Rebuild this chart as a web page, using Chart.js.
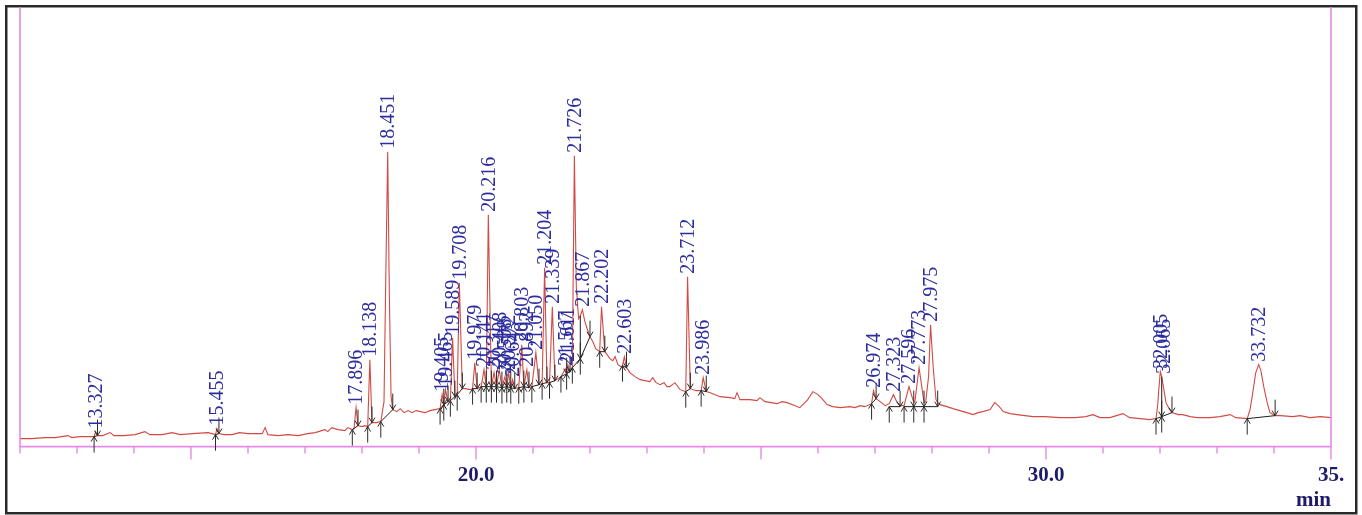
<!DOCTYPE html>
<html>
<head>
<meta charset="utf-8">
<title>Chromatogram</title>
<script src="https://cdn.jsdelivr.net/npm/chart.js@4/dist/chart.umd.min.js"></script>
<style>
  html, body { margin: 0; padding: 0; background: #ffffff; }
  #wrap { width: 1362px; height: 515px; position: relative; }
</style>
</head>
<body>
<div id="wrap"><canvas id="chrom" width="1362" height="515"></canvas></div>
<script>
// Detector trace: [retention time (min), signal]
const trace = [
  [12.00, 8], [12.20, 8], [12.44, 9], [12.62, 9], [12.84, 11], [12.91, 9], [13.05, 10], [13.23, 10],
  [13.30, 10], [13.327, 15], [13.36, 11], [13.45, 11], [13.58, 14], [13.65, 11], [13.82, 11], [14.02, 12],
  [14.19, 15], [14.28, 12], [14.49, 12], [14.67, 14], [14.81, 12], [15.02, 13], [15.30, 14], [15.43, 12],
  [15.455, 18], [15.49, 13], [15.58, 12], [15.72, 12], [15.85, 14], [16.00, 13], [16.25, 13], [16.30, 19],
  [16.35, 12], [16.53, 11], [16.70, 12], [16.88, 11], [17.05, 13], [17.18, 14], [17.35, 17], [17.40, 15],
  [17.47, 19], [17.52, 18], [17.58, 17], [17.70, 16], [17.75, 19], [17.83, 17], [17.86, 18], [17.896, 39],
  [17.93, 21], [18.00, 20], [18.05, 21], [18.10, 20], [18.138, 87], [18.175, 24], [18.25, 24], [18.33, 25],
  [18.386, 45], [18.42, 180], [18.451, 295], [18.48, 150], [18.51, 50], [18.54, 37], [18.61, 35], [18.67, 38],
  [18.74, 34], [18.81, 36], [18.88, 34], [18.95, 36], [19.02, 35], [19.11, 34], [19.19, 36], [19.28, 37],
  [19.37, 38], [19.405, 52], [19.435, 42], [19.465, 57], [19.51, 45], [19.55, 46], [19.589, 109], [19.63, 50],
  [19.67, 52], [19.708, 164], [19.76, 58], [19.81, 58], [19.89, 57], [19.94, 58], [19.979, 84], [20.02, 58],
  [20.09, 60], [20.141, 77], [20.18, 60], [20.216, 232], [20.27, 60], [20.317, 74], [20.36, 60], [20.408, 77],
  [20.455, 59], [20.508, 70], [20.54, 60], [20.572, 74], [20.61, 59], [20.643, 67], [20.68, 58], [20.75, 59],
  [20.803, 102], [20.84, 60], [20.892, 77], [20.93, 59], [20.98, 60], [21.050, 94], [21.105, 62], [21.16, 63],
  [21.204, 179], [21.245, 64], [21.29, 64], [21.339, 140], [21.385, 66], [21.44, 68], [21.49, 70], [21.567, 78],
  [21.59, 73], [21.611, 82], [21.65, 75], [21.69, 79], [21.726, 291], [21.76, 160], [21.80, 128], [21.83, 131],
  [21.867, 137], [21.91, 125], [21.95, 118], [22.00, 110], [22.05, 105], [22.10, 98], [22.17, 95], [22.202, 140],
  [22.26, 95], [22.30, 92], [22.35, 88], [22.40, 86], [22.44, 90], [22.49, 82], [22.54, 80], [22.57, 81],
  [22.603, 90], [22.64, 79], [22.70, 74], [22.79, 70], [22.88, 67], [22.96, 66], [23.05, 65], [23.10, 69],
  [23.16, 64], [23.23, 62], [23.30, 64], [23.35, 60], [23.40, 60], [23.49, 64], [23.58, 57], [23.68, 55],
  [23.712, 170], [23.76, 58], [23.86, 56], [23.95, 56], [23.986, 69], [24.04, 55], [24.11, 54], [24.28, 50],
  [24.46, 49], [24.54, 48], [24.58, 54], [24.63, 47], [24.81, 47], [24.93, 46], [24.98, 49], [25.07, 45],
  [25.28, 43], [25.37, 45], [25.46, 44], [25.60, 41], [25.68, 39], [25.77, 44], [25.82, 47], [25.91, 55],
  [26.00, 52], [26.07, 48], [26.16, 42], [26.26, 40], [26.39, 39], [26.56, 40], [26.65, 39], [26.74, 41],
  [26.82, 40], [26.94, 43], [26.974, 56], [27.02, 48], [27.09, 45], [27.18, 41], [27.25, 43], [27.323, 52],
  [27.39, 44], [27.44, 41], [27.51, 41], [27.596, 60], [27.68, 44], [27.70, 45], [27.773, 79], [27.86, 44],
  [27.89, 45], [27.94, 70], [27.975, 122], [28.02, 80], [28.07, 47], [28.10, 44], [28.14, 42], [28.26, 40],
  [28.37, 38], [28.49, 36], [28.61, 34], [28.72, 32], [28.81, 34], [28.89, 35], [29.02, 37], [29.10, 44],
  [29.18, 40], [29.25, 35], [29.37, 33], [29.49, 32], [29.63, 31], [29.77, 30], [29.98, 30], [30.25, 29],
  [30.51, 29], [30.70, 30], [30.82, 32], [30.95, 29], [31.12, 29], [31.35, 33], [31.47, 29], [31.65, 28],
  [31.82, 27], [31.93, 28], [31.96, 42], [31.98, 58], [32.005, 75], [32.03, 70], [32.065, 58], [32.105, 44],
  [32.16, 38], [32.21, 34], [32.32, 32], [32.40, 32], [32.53, 30], [32.65, 29], [32.88, 29], [33.05, 30],
  [33.23, 32], [33.33, 29], [33.53, 28], [33.58, 37], [33.63, 55], [33.68, 74], [33.732, 82], [33.77, 76],
  [33.82, 60], [33.88, 44], [33.93, 34], [34.02, 31], [34.11, 31], [34.33, 30], [34.46, 31], [34.63, 29],
  [34.81, 30], [35.00, 29]
];

// Integrated peaks: retention times, with integration start and end points [time, signal]
const peakTimes = [13.327, 15.455, 17.896, 18.138, 18.451, 19.405, 19.465, 19.589, 19.708, 19.979,
  20.141, 20.216, 20.317, 20.408, 20.508, 20.572, 20.643, 20.803, 20.892, 21.050,
  21.204, 21.339, 21.567, 21.611, 21.726, 21.867, 22.202, 22.603, 23.712, 23.986,
  26.974, 27.323, 27.596, 27.773, 27.975, 32.005, 32.065, 33.732];

const peakStarts = [[13.30, 10], [15.43, 12], [17.83, 17], [18.10, 20], [18.33, 25], [19.37, 38], [19.435, 42],
  [19.55, 46], [19.67, 52], [19.94, 58], [20.09, 60], [20.18, 60], [20.27, 60], [20.36, 60], [20.455, 59],
  [20.54, 60], [20.61, 59], [20.75, 59], [20.84, 60], [20.98, 60], [21.16, 63], [21.29, 64], [21.49, 70],
  [21.59, 73], [21.69, 79], [21.83, 88], [22.17, 95], [22.57, 81], [23.68, 55], [23.95, 56], [26.94, 43],
  [27.25, 40], [27.51, 40], [27.68, 40], [27.86, 40], [31.93, 28], [32.03, 30], [33.53, 28]];

const peakEnds = [[13.36, 11], [15.49, 13], [17.93, 21], [18.175, 24], [18.54, 37], [19.435, 42], [19.51, 45],
  [19.63, 50], [19.76, 58], [20.02, 58], [20.18, 60], [20.27, 60], [20.36, 60], [20.455, 59], [20.54, 60],
  [20.61, 59], [20.68, 58], [20.84, 60], [20.93, 59], [21.105, 62], [21.245, 64], [21.385, 66], [21.59, 73],
  [21.65, 75], [21.83, 88], [22.00, 110], [22.26, 95], [22.64, 79], [23.76, 58], [24.04, 55], [27.02, 48],
  [27.44, 40], [27.68, 40], [27.86, 40], [28.10, 40], [32.03, 30], [32.21, 34], [34.02, 31]];

// Perpendicular drops between fused peaks: [time, baseline signal, trace signal]
const dropLines = [[21.83, 88, 131], [32.03, 30, 70]];

// Time axis
const timeMin = 12;
const timeMax = 35;
const labelledTicks = [20, 30, 35];
const labelledTickTexts = ['20.0', '30.0', '35.'];
const majorTickEvery = 5;

const PINK = '#e58be5';
const TRACE = '#d24a43';
const LABEL_BLUE = '#2d2d9f';
const AXIS_NAVY = '#1c1c6b';
const MARK = '#1e1e1e';

function traceMaxBetween(t0, t1) {
  let m = -Infinity;
  for (const [t, s] of trace) {
    if (t >= t0 - 1e-9 && t <= t1 + 1e-9 && s > m) m = s;
  }
  return m;
}

function drawArrow(ctx, px, py, dir) {
  // dir = -1 : arrow pointing up (tail below), dir = +1 : pointing down (tail above)
  const len = 16;
  ctx.beginPath();
  ctx.moveTo(px, py - dir * len);
  ctx.lineTo(px, py);
  ctx.moveTo(px - 3, py - dir * 5);
  ctx.lineTo(px, py);
  ctx.lineTo(px + 3, py - dir * 5);
  ctx.stroke();
}

const chromDecor = {
  id: 'chromDecor',
  beforeDraw(chart) {
    const ctx = chart.ctx;
    ctx.save();
    ctx.fillStyle = '#ffffff';
    ctx.fillRect(0, 0, chart.width, chart.height);
    ctx.strokeStyle = '#2a2a2a';
    ctx.lineWidth = 2.5;
    ctx.strokeRect(6.25, 6.25, 1350, 507);
    ctx.restore();
  },
  afterDatasetsDraw(chart) {
    const { ctx, chartArea: a, scales: { x, y } } = chart;
    ctx.save();

    // frame of the plot: left, right and time axis
    ctx.strokeStyle = PINK;
    ctx.lineWidth = 1.6;
    ctx.beginPath();
    ctx.moveTo(a.left, a.top);
    ctx.lineTo(a.left, a.bottom);
    ctx.lineTo(a.right, a.bottom);
    ctx.lineTo(a.right, a.top);
    ctx.stroke();

    // minute ticks, longer every five minutes
    ctx.lineWidth = 1.4;
    for (let m = timeMin; m <= timeMax; m++) {
      const px = x.getPixelForValue(m);
      const len = (m % majorTickEvery === 0) ? 13 : 7;
      ctx.beginPath();
      ctx.moveTo(px, a.bottom);
      ctx.lineTo(px, a.bottom + len);
      ctx.stroke();
    }

    // integration baselines
    ctx.strokeStyle = MARK;
    ctx.lineWidth = 1;
    for (let i = 0; i < peakTimes.length; i++) {
      const [t0, s0] = peakStarts[i];
      const [t1, s1] = peakEnds[i];
      ctx.beginPath();
      ctx.moveTo(x.getPixelForValue(t0), y.getPixelForValue(s0));
      ctx.lineTo(x.getPixelForValue(t1), y.getPixelForValue(s1));
      ctx.stroke();
    }

    // perpendicular drops
    for (const [t, s0, s1] of dropLines) {
      const px = x.getPixelForValue(t);
      ctx.beginPath();
      ctx.moveTo(px, y.getPixelForValue(s0));
      ctx.lineTo(px, y.getPixelForValue(s1));
      ctx.stroke();
    }

    // start / end markers
    ctx.strokeStyle = '#2a2a2a';
    for (let i = 0; i < peakTimes.length; i++) {
      const [t0, s0] = peakStarts[i];
      const [t1, s1] = peakEnds[i];
      drawArrow(ctx, x.getPixelForValue(t0), y.getPixelForValue(s0), -1);
      drawArrow(ctx, x.getPixelForValue(t1), y.getPixelForValue(s1), 1);
    }

    // retention time labels above each apex
    ctx.fillStyle = LABEL_BLUE;
    ctx.font = '20px "Liberation Serif", "Times New Roman", serif';
    ctx.textAlign = 'left';
    ctx.textBaseline = 'middle';
    for (let i = 0; i < peakTimes.length; i++) {
      const t = peakTimes[i];
      const apex = traceMaxBetween(peakStarts[i][0], peakEnds[i][0]);
      const px = x.getPixelForValue(t) + 1;
      const py = y.getPixelForValue(apex) - 3;
      ctx.save();
      ctx.translate(px, py);
      ctx.rotate(-Math.PI / 2);
      ctx.fillText(t.toFixed(3), 0, 0);
      ctx.restore();
    }
    ctx.restore();
  }
};

new Chart(document.getElementById('chrom'), {
  type: 'scatter',
  data: {
    datasets: [{
      data: trace.map(([t, s]) => ({ x: t, y: s })),
      showLine: true,
      borderColor: TRACE,
      borderWidth: 1.1,
      pointRadius: 0,
      tension: 0
    }]
  },
  options: {
    responsive: false,
    animation: false,
    devicePixelRatio: 1,
    layout: { padding: { left: 20, right: 31, top: 7, bottom: 2 } },
    plugins: { legend: { display: false }, tooltip: { enabled: false } },
    scales: {
      x: {
        type: 'linear',
        min: timeMin,
        max: timeMax,
        grid: { display: false, drawTicks: false },
        border: { display: false },
        ticks: {
          stepSize: 1,
          autoSkip: false,
          maxRotation: 0,
          padding: 16,
          color: AXIS_NAVY,
          font: { family: '"Liberation Serif", "Times New Roman", serif', size: 21, weight: 'bold' },
          callback: (v) => {
            const k = labelledTicks.indexOf(v);
            return k >= 0 ? labelledTickTexts[k] : '';
          }
        },
        title: {
          display: true,
          text: 'min',
          align: 'end',
          color: AXIS_NAVY,
          padding: { top: -16, bottom: 0 },
          font: { family: '"Liberation Serif", "Times New Roman", serif', size: 21, weight: 'bold' }
        }
      },
      y: { display: false, min: 0, max: 440 }
    }
  },
  plugins: [chromDecor]
});
</script>
</body>
</html>
